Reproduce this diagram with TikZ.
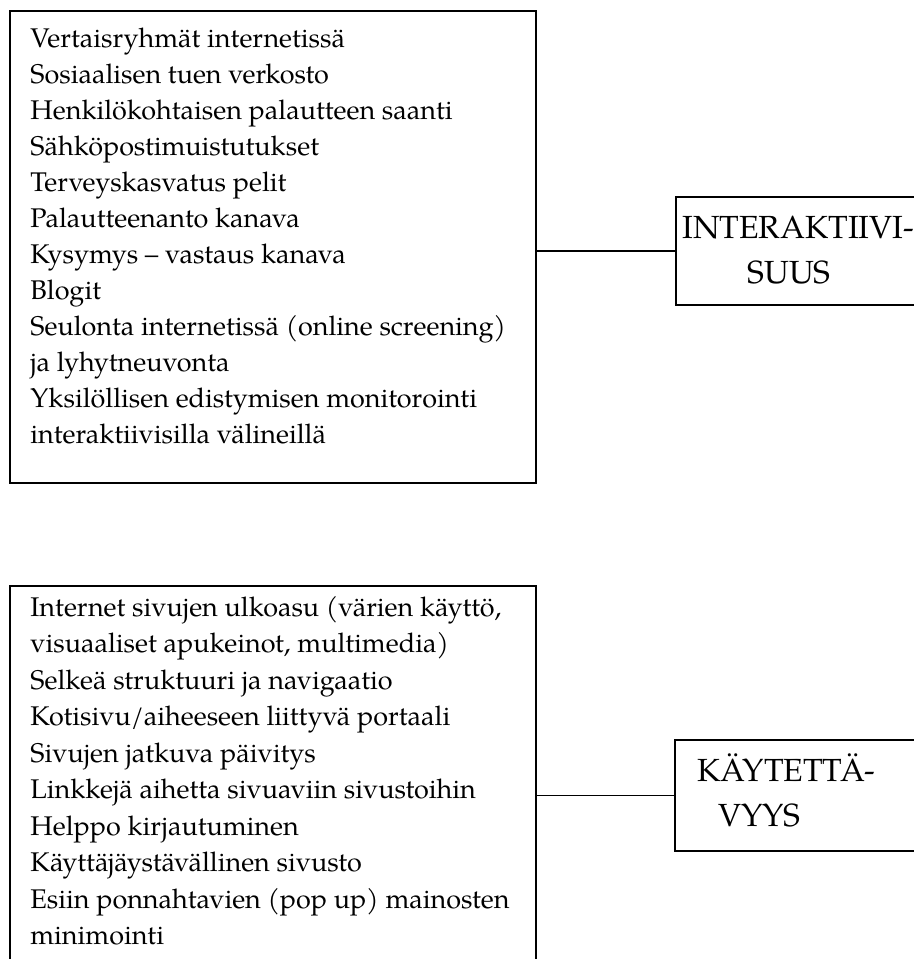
\documentclass[tikz,border=0pt]{standalone}
\usepackage{fontspec}
\setmainfont{TeX Gyre Pagella}
\tikzset{
  frame/.style={draw, line width=1pt, inner sep=0pt, anchor=north west},
  itemtxt/.style={anchor=base west, align=left, inner sep=0pt, font=\fontsize{13.5pt}{18pt}\selectfont},
  headtxt/.style={anchor=base west, align=left, inner sep=0pt, font=\fontsize{16pt}{22.5pt}\selectfont},
  link/.style={draw, line width=0.8pt}
}
\begin{document}
\begin{tikzpicture}[x=0.5pt,y=-0.5pt]
\useasboundingbox (0,0) rectangle (914,959);
\clip (0,0) rectangle (914,959);
% top group (multi-line nodes are placed by the baseline of their last line)
\node[frame, minimum width=263pt, minimum height=236pt] (boxA) at (9,10) {};
\node[itemtxt] (txtA) at (30,443) {Vertaisryhmät internetissä\\
Sosiaalisen tuen verkosto\\
Henkilökohtaisen palautteen saanti\\
Sähköpostimuistutukset\\
Terveyskasvatus pelit\\
Palautteenanto kanava\\
Kysymys – vastaus kanava\\
Blogit\\
Seulonta internetissä (online screening)\\
ja lyhytneuvonta\\
Yksilöllisen edistymisen monitorointi\\
interaktiivisilla välineillä};
\node[frame, minimum width=132.5pt, minimum height=54pt] (boxB) at (675,196) {};
\node[headtxt] (txtB) at (682,283) {INTERAKTIIVI-\\\hspace*{32.5pt}SUUS};
\draw[link] (boxB.west -| boxA.east) -- (boxB.west);
% bottom group
\node[frame, minimum width=263pt, minimum height=207.5pt] (boxC) at (9,585) {};
\node[itemtxt, font=\fontsize{13.5pt}{18.25pt}\selectfont] (txtC) at (30,944.5) {Internet sivujen ulkoasu (värien käyttö,\\
visuaaliset apukeinot, multimedia)\\
Selkeä struktuuri ja navigaatio\\
Kotisivu/aiheeseen liittyvä portaali\\
Sivujen jatkuva päivitys\\
Linkkejä aihetta sivuaviin sivustoihin\\
Helppo kirjautuminen\\
Käyttäjäystävällinen sivusto\\
Esiin ponnahtavien (pop up) mainosten\\
minimointi};
\node[frame, minimum width=133pt, minimum height=55.5pt] (boxD) at (674,739) {};
\node[headtxt] (txtD) at (697,826) {KÄYTETTÄ-\\\hspace*{10.5pt}VYYS};
\draw[link] (boxD.west -| boxC.east) -- (boxD.west);
\end{tikzpicture}
\end{document}
